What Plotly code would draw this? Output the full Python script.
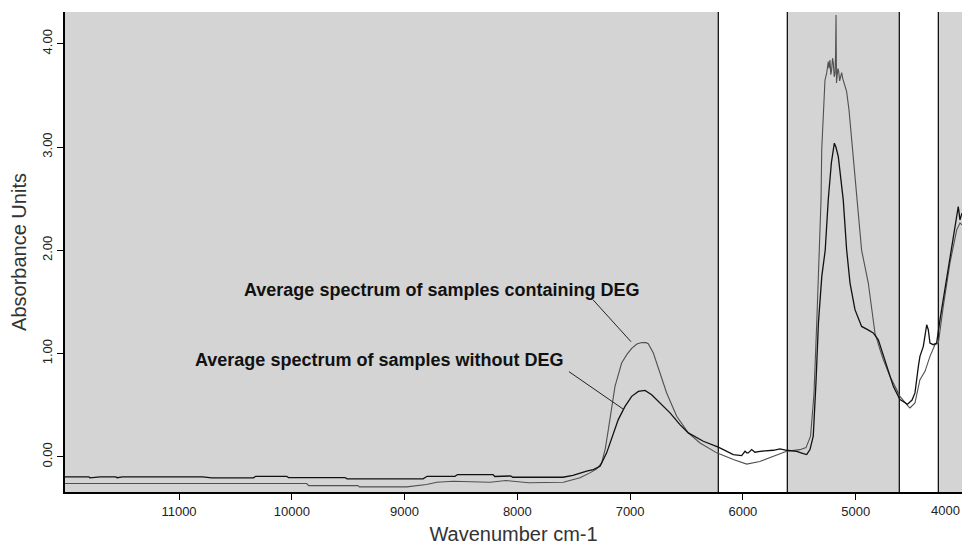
import plotly.graph_objects as go

# NIR average spectra (wavenumber in cm-1, absorbance)
wn_without = [12011, 11800, 11790, 11700, 11560, 11550, 11500, 10790, 10710, 10340, 10320,
              10045, 10030, 9528, 9510, 8836, 8800, 8553, 8530, 8216, 8200, 8060, 8040,
              7595, 7507, 7444, 7385, 7326, 7267, 7208, 7149, 7105, 7045, 6986, 6927,
              6868, 6809, 6735, 6646, 6558, 6484, 6351, 6218, 6085, 6011, 5981, 5966,
              5952, 5922, 5893, 5848, 5730, 5671, 5612, 5523, 5464, 5434, 5405, 5376,
              5352, 5330, 5300, 5270, 5243, 5215, 5189, 5175, 5154, 5110, 5080, 5050,
              5006, 4947, 4890, 4844, 4799, 4725, 4666, 4607, 4563, 4540, 4500, 4474,
              4444, 4430, 4400, 4370, 4356, 4341, 4312, 4282, 4252, 4193, 4134, 4090,
              4075, 4057]
abs_without = [-0.193, -0.193, -0.203, -0.193, -0.193, -0.202, -0.193, -0.193, -0.203, -0.203, -0.188,
               -0.188, -0.200, -0.200, -0.213, -0.213, -0.188, -0.188, -0.171, -0.171, -0.190, -0.185, -0.197,
               -0.197, -0.180, -0.155, -0.139, -0.123, -0.091, 0.039, 0.232, 0.361, 0.489, 0.586, 0.634,
               0.644, 0.602, 0.522, 0.426, 0.312, 0.232, 0.151, 0.095, 0.022, 0.013, 0.054, 0.040,
               0.039, 0.071, 0.045, 0.054, 0.064, 0.077, 0.064, 0.054, 0.032, 0.022, 0.071, 0.200,
               0.716, 1.300, 1.750, 2.000, 2.490, 2.850, 3.037, 3.000, 2.907, 2.488, 2.005, 1.683,
               1.425, 1.263, 1.230, 1.200, 1.134, 0.876, 0.683, 0.554, 0.522, 0.510, 0.550, 0.619,
               0.876, 0.973, 1.070, 1.279, 1.231, 1.102, 1.086, 1.102, 1.328, 1.715, 2.133, 2.424,
               2.295, 2.360]

wn_with = [12011, 9868, 9850, 9413, 9400, 8981, 8804, 8715, 8570, 8242, 8100, 8000, 7900,
           7592, 7444, 7356, 7296, 7252, 7220, 7193, 7134, 7075, 7030, 6986, 6940, 6897,
           6860, 6839, 6794, 6735, 6676, 6587, 6484, 6380, 6232, 6085, 5966, 5850, 5730,
           5612, 5494, 5440, 5400, 5370, 5345, 5325, 5307, 5301, 5287, 5272, 5257, 5250,
           5243, 5236, 5228, 5220, 5213, 5205, 5198, 5190, 5183, 5178, 5174, 5170, 5166,
           5158, 5150, 5142, 5133, 5124, 5115, 5095, 5080, 5059, 5035, 5015, 4991, 4947,
           4888, 4829, 4784, 4755, 4696, 4607, 4533, 4518, 4474, 4430, 4385, 4341, 4297,
           4267, 4223, 4164, 4104, 4075, 4057]
abs_with = [-0.258, -0.258, -0.278, -0.278, -0.290, -0.290, -0.268, -0.245, -0.236, -0.245, -0.229, -0.240, -0.251,
            -0.245, -0.203, -0.155, -0.116, -0.058, 0.080, 0.264, 0.683, 0.909, 0.990, 1.050, 1.092, 1.108,
            1.106, 1.096, 1.006, 0.812, 0.619, 0.393, 0.232, 0.135, 0.039, -0.026, -0.070, -0.045, 0.006,
            0.054, 0.070, 0.090, 0.200, 0.600, 1.300, 2.000, 2.490, 2.970, 3.390, 3.649, 3.714, 3.790,
            3.826, 3.760, 3.842, 3.700, 3.746, 3.860, 3.810, 3.680, 3.714, 3.900, 4.277, 3.620, 3.681,
            3.760, 3.729, 3.640, 3.681, 3.720, 3.665, 3.584, 3.536, 3.359, 3.069, 2.810, 2.490, 2.000,
            1.683, 1.200, 1.038, 0.941, 0.780, 0.586, 0.489, 0.474, 0.522, 0.748, 0.828, 0.973, 1.086,
            1.102, 1.456, 1.876, 2.198, 2.263, 2.247]

# Excluded (white) spectral windows, cm-1
white_bands = [(6218, 5606), (4613, 4267)]
x_range = [12011, 4057]
y_range = [-0.340, 4.307]
x_ticks = [11000, 10000, 9000, 8000, 7000, 6000, 5000]
x_tick_text = ["11000", "10000", "9000", "8000", "7000", "6000", "5000"]
edge_tick_text = "4000"
y_ticks = [0, 1, 2, 3, 4]
y_tick_text = ["0.00", "1.00", "2.00", "3.00", "4.00"]

label_with = "Average spectrum of samples containing DEG"
label_without = "Average spectrum of samples without DEG"

FONT = "Liberation Sans, Arial, sans-serif"
SHADE = "#d4d4d4"

fig = go.Figure()

fig.add_trace(go.Scatter(x=wn_with, y=abs_with, mode="lines",
                         line=dict(color="#505050", width=1.1), hoverinfo="skip"))
fig.add_trace(go.Scatter(x=wn_without, y=abs_without, mode="lines",
                         line=dict(color="#111111", width=1.3), hoverinfo="skip"))

# grey shading of the selected regions, white gaps between them
edges = [x_range[0]]
for hi, lo in white_bands:
    edges += [hi, lo]
edges.append(x_range[1])
shapes = []
for i in range(0, len(edges), 2):
    shapes.append(dict(type="rect", xref="x", yref="paper", x0=edges[i], x1=edges[i + 1],
                       y0=0, y1=1, fillcolor=SHADE, line=dict(width=0), layer="below"))
for hi, lo in white_bands:
    for xv in (hi, lo):
        shapes.append(dict(type="line", xref="x", yref="paper", x0=xv, x1=xv, y0=0, y1=1,
                           line=dict(color="#000000", width=1.2), layer="below"))

# leader lines from labels to the 6900 cm-1 band
shapes.append(dict(type="line", xref="x", yref="y", x0=7329, y0=1.521, x1=6992, y1=1.115,
                   line=dict(color="#222222", width=1)))
shapes.append(dict(type="line", xref="x", yref="y", x0=7542, y0=0.825, x1=7054, y1=0.457,
                   line=dict(color="#222222", width=1)))

annotations = [
    dict(x=8672, y=1.618, xref="x", yref="y", text="<b>" + label_with + "</b>", showarrow=False,
         font=dict(family=FONT, size=18, color="#111111")),
    dict(x=9227, y=0.934, xref="x", yref="y", text="<b>" + label_without + "</b>", showarrow=False,
         font=dict(family=FONT, size=18, color="#111111")),
    # last tick label sits at the clipped right edge of the axis
    dict(x=1.0, y=-0.018, xref="paper", yref="paper", text=edge_tick_text, showarrow=False,
         xanchor="right", yanchor="top", font=dict(family=FONT, size=13, color="#222222")),
]

fig.update_layout(
    width=962, height=546,
    margin=dict(l=65, r=0, t=12, b=54),
    paper_bgcolor="white", plot_bgcolor="white",
    showlegend=False,
    shapes=shapes, annotations=annotations,
    font=dict(family=FONT, color="#222222"),
    xaxis=dict(range=x_range, tickvals=x_ticks, ticktext=x_tick_text, showgrid=False, zeroline=False,
               showline=True, linecolor="black", linewidth=2, ticks="outside",
               ticklen=6, tickwidth=1, tickcolor="black",
               tickfont=dict(family=FONT, size=13, color="#222222"),
               title=dict(text="Wavenumber cm-1", font=dict(family=FONT, size=20, color="#333333"),
                          standoff=9)),
    yaxis=dict(range=y_range, tickvals=y_ticks, ticktext=y_tick_text, tickangle=-90,
               showgrid=False, zeroline=False,
               showline=True, linecolor="black", linewidth=2, ticks="outside",
               ticklen=6, tickwidth=1, tickcolor="black",
               tickfont=dict(family=FONT, size=13, color="#222222"),
               title=dict(text="Absorbance Units", font=dict(family=FONT, size=20, color="#333333"),
                          standoff=8)),
)

fig.write_html("out.html")
